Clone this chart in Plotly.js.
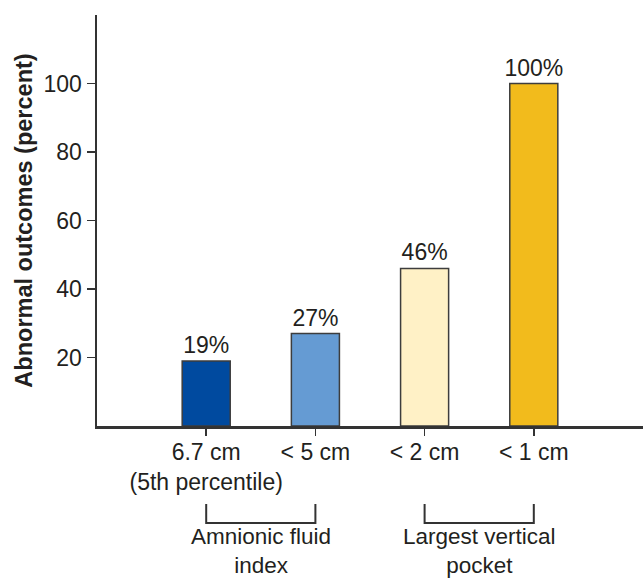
<!DOCTYPE html>
<html>
<head>
<meta charset="utf-8">
<script src="https://cdn.plot.ly/plotly-3.0.1.min.js"></script>
<style>html,body{margin:0;padding:0;background:#fff;}#chart{width:643px;height:580px;}</style>
</head>
<body>
<div id="chart"></div>
<script>
const categories = [0, 1, 2, 3];
const tickLabels = ["6.7 cm<br>(5th percentile)", "< 5 cm", "< 2 cm", "< 1 cm"];
const values = [19, 27, 46, 100];
const barColors = ["#004a9f", "#659bd3", "#fff1c6", "#f2bb1c"];
const groupLabels = ["Amnionic fluid<br>index", "Largest vertical<br>pocket"];
const groupSpans = [[0, 1], [2, 3]];
const yTicks = [20, 40, 60, 80, 100];

const ink = "#231f20";
const font = "Liberation Sans, Arial, Helvetica, sans-serif";
const fs = 23;

const trace = {
  type: "bar",
  x: categories,
  y: values,
  width: 0.44,
  marker: { color: barColors, line: { color: "#3d3d3d", width: 1.5 } },
  texttemplate: "%{y}%",
  textposition: "outside",
  constraintext: "none",
  textfont: { family: font, size: fs, color: ink },
  cliponaxis: false,
  hoverinfo: "skip"
};

const shapes = [];
const annotations = [];
groupSpans.forEach((s, i) => {
  shapes.push({
    type: "path", xref: "x", yref: "paper",
    path: `M ${s[0]} ${-0.190} L ${s[0]} ${-0.236} L ${s[1]} ${-0.236} L ${s[1]} ${-0.190}`,
    line: { color: "#333", width: 2 }
  });
  annotations.push({
    xref: "x", yref: "paper", x: (s[0] + s[1]) / 2, y: -0.237,
    yanchor: "top", showarrow: false, text: groupLabels[i],
    borderpad: 0,
    font: { family: font, size: 22.5, color: ink }
  });
});

const layout = {
  width: 643, height: 580,
  margin: { l: 97, r: 0, t: 15, b: 154 },
  paper_bgcolor: "#fff", plot_bgcolor: "#fff",
  showlegend: false,
  font: { family: font, color: ink, size: fs },
  xaxis: {
    range: [-1, 4],
    tickvals: categories, ticktext: tickLabels,
    tickangle: 0,
    ticklabelstandoff: -3,
    ticks: "outside", ticklen: 7, tickwidth: 1.5, tickcolor: "#333",
    showline: true, linecolor: "#333", linewidth: 2.5,
    showgrid: false, zeroline: false, fixedrange: true,
    tickfont: { family: font, size: fs, color: ink }
  },
  yaxis: {
    range: [0, 120],
    tickvals: yTicks,
    ticks: "outside", ticklen: 8, tickwidth: 1.5, tickcolor: "#333",
    showline: true, linecolor: "#333", linewidth: 2.5,
    showgrid: false, zeroline: false, fixedrange: true,
    tickfont: { family: font, size: fs, color: ink },
    title: { text: "<b>Abnormal outcomes (percent)</b>", font: { family: font, size: 23.5, color: ink }, standoff: 5 }
  },
  shapes: shapes,
  annotations: annotations
};

Plotly.newPlot("chart", [trace], layout, { displayModeBar: false, staticPlot: true });
</script>
</body>
</html>
